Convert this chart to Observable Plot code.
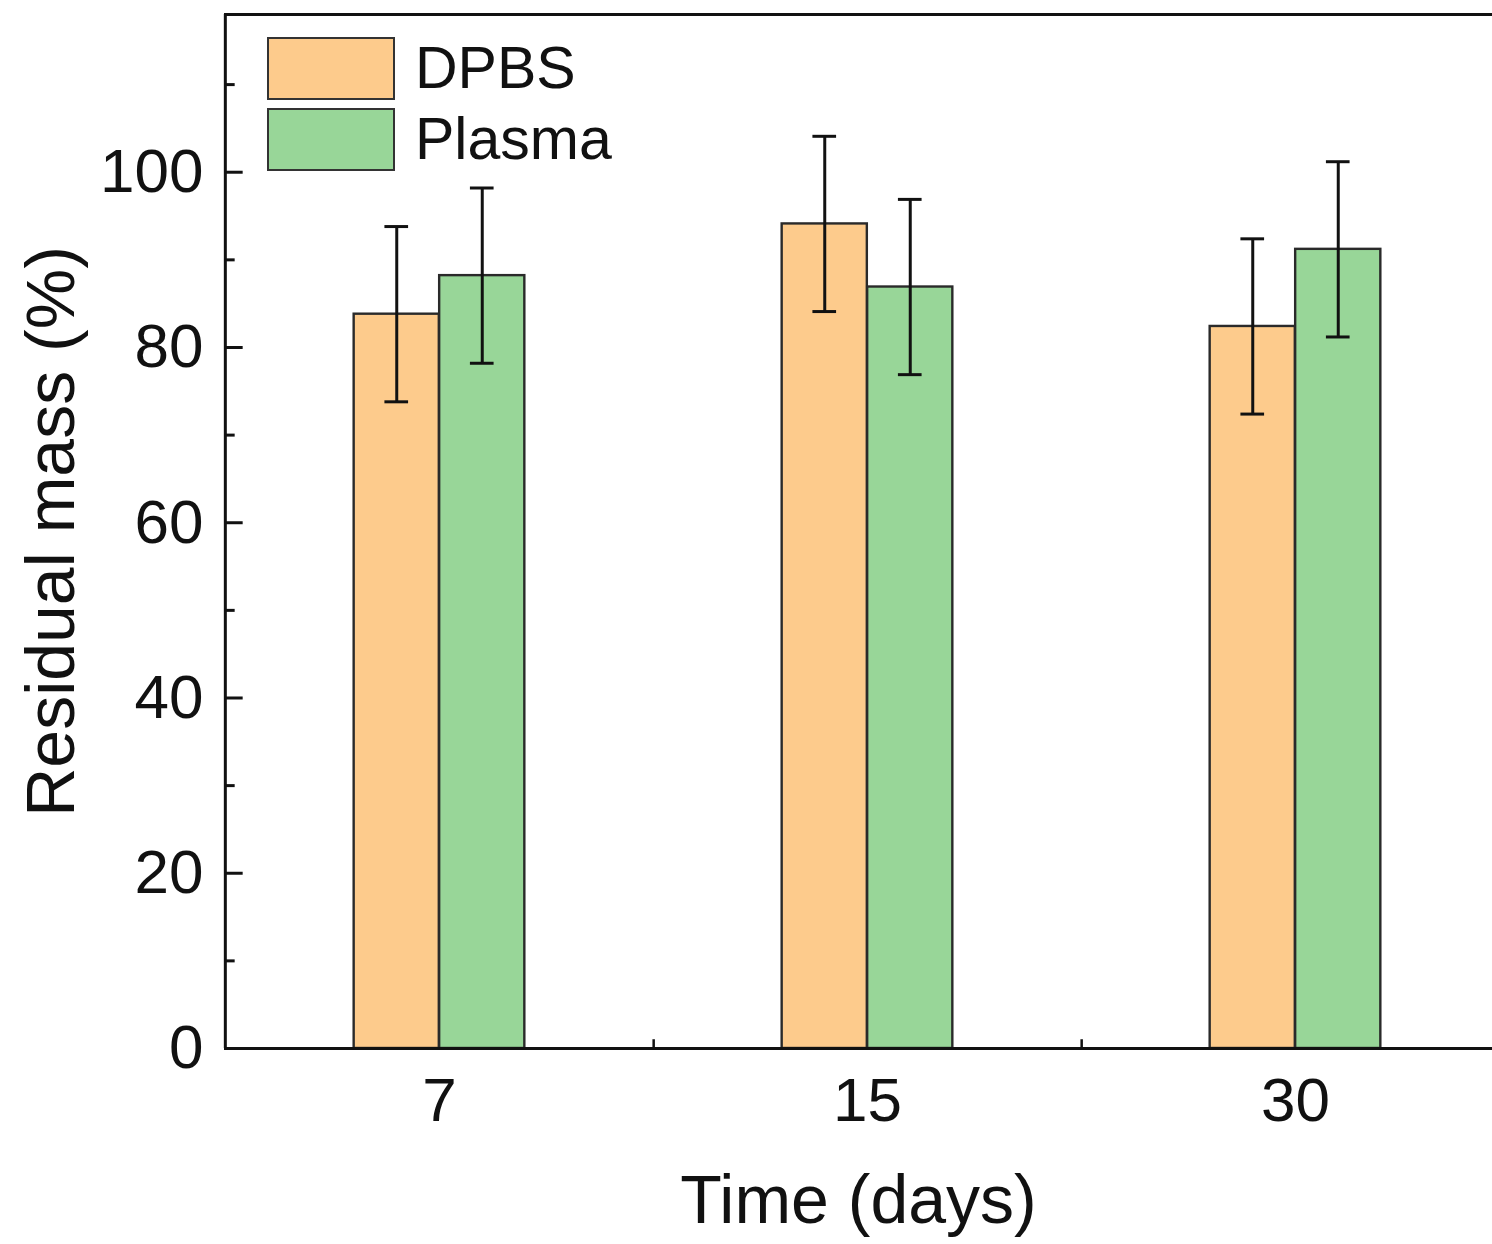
<!DOCTYPE html>
<html>
<head>
<meta charset="utf-8">
<script src="https://cdn.jsdelivr.net/npm/d3@7"></script>
<script src="https://cdn.jsdelivr.net/npm/@observablehq/plot@0.6"></script>
<style>
  html, body { margin: 0; padding: 0; background: #fff; overflow: hidden; }
  #wrap { position: relative; width: 1492px; height: 1244px; font-family: "Liberation Sans", Arial, sans-serif; }
  #legend { position: absolute; left: 267px; top: 37px; }
  .lg-row { display: flex; align-items: center; height: 71px; }
  .lg-row > .lg-sw { align-self: flex-start; }
  .lg-sw { width: 128px; height: 63px; border: 2.5px solid #333; box-sizing: border-box; }
  .lg-tx { margin-left: 20px; font-size: 59px; color: #111; line-height: 63px; align-self: flex-start; }
</style>
</head>
<body>
<div id="wrap"><div id="chart"></div><div id="legend"></div></div>
<script>
const days = ["7", "15", "30"];
const seriesNames = ["DPBS", "Plasma"];
const dpbsMean = [83.8, 94.1, 82.4];
const dpbsErr = [10.0, 10.0, 10.0];
const plasmaMean = [88.2, 86.9, 91.2];
const plasmaErr = [10.0, 10.0, 10.0];
const yTicks = [0, 20, 40, 60, 80, 100];
const yMinorTicks = [10, 30, 50, 70, 90, 110];
const colors = ["#fdcb8c", "#98d698"];

const rows = [];
days.forEach((d, i) => {
  rows.push({day: d, series: "DPBS", value: dpbsMean[i], err: dpbsErr[i]});
  rows.push({day: d, series: "Plasma", value: plasmaMean[i], err: plasmaErr[i]});
});

const bandW = (1509 - 224) / 3;
const barW = 85.5;
const inset = (bandW - barW) / 2;
const off = barW / 2;
const capW = 24;

const marks = [];
seriesNames.forEach((s, si) => {
  const data = rows.filter(r => r.series === s);
  const dx = si === 0 ? -off : off;
  marks.push(Plot.barY(data, {x: "day", y: "value", fill: colors[si], stroke: "#2a2a2a", strokeWidth: 2.4, insetLeft: inset, insetRight: inset, dx}));
});
seriesNames.forEach((s, si) => {
  const data = rows.filter(r => r.series === s);
  const dx = si === 0 ? -off : off;
  marks.push(Plot.ruleX(data, {x: "day", y1: d => d.value - d.err, y2: d => d.value + d.err, stroke: "#111", strokeWidth: 3, dx}));
  marks.push(Plot.tickY(data, {x: "day", y: d => d.value + d.err, stroke: "#111", strokeWidth: 3, inset: (bandW - capW) / 2, dx}));
  marks.push(Plot.tickY(data, {x: "day", y: d => d.value - d.err, stroke: "#111", strokeWidth: 3, inset: (bandW - capW) / 2, dx}));
});

const chart = Plot.plot({
  width: 1492,
  height: 1244,
  marginTop: 14,
  marginBottom: 196,
  marginLeft: 224,
  marginRight: 0,
  style: {fontFamily: "'Liberation Sans', Arial, sans-serif", background: "#fff", overflow: "hidden"},
  x: {domain: days, range: [224, 1509], padding: 0},
  y: {domain: [0, 118]},
  marks: [
    ...marks,
    // inward y ticks (major and minor) attached to the left axis
    Plot.tickY(yTicks, {x: () => days[0], y: d => d, stroke: "#111", strokeWidth: 3, insetRight: bandW - 18}),
    Plot.tickY(yMinorTicks, {x: () => days[0], y: d => d, stroke: "#111", strokeWidth: 3, insetRight: bandW - 10}),
    // axis lines / frame
    Plot.ruleY([0], {stroke: "#111", strokeWidth: 3}),
    Plot.ruleY([118], {stroke: "#111", strokeWidth: 3}),
    Plot.ruleX([days[0]], {y1: 0, y2: 118, stroke: "#111", strokeWidth: 3, dx: -bandW / 2}),
    // x minor ticks between categories
    Plot.ruleX(days.slice(0, 2), {y1: 0, y2: 1, stroke: "#111", strokeWidth: 2.5, dx: bandW / 2}),
    Plot.axisY(yTicks, {anchor: "left", tickSize: 0, tickPadding: 21, fontSize: 62, fill: "#111", label: null}),
    Plot.axisX({anchor: "bottom", tickSize: 0, tickPadding: 28, fontSize: 62, fill: "#111", label: null}),
    Plot.text(["Time (days)"], {frameAnchor: "bottom", dy: 174, fontSize: 68, fill: "#111"}),
    Plot.text(["Residual mass (%)"], {frameAnchor: "left", textAnchor: "middle", dx: -172, rotate: -90, fontSize: 68, fill: "#111"})
  ]
});
document.getElementById("chart").appendChild(chart);

const lg = document.getElementById("legend");
seriesNames.forEach((s, i) => {
  const row = document.createElement("div");
  row.className = "lg-row";
  const sw = document.createElement("div");
  sw.className = "lg-sw";
  sw.style.background = colors[i];
  const tx = document.createElement("div");
  tx.className = "lg-tx";
  tx.textContent = s;
  row.appendChild(sw); row.appendChild(tx);
  lg.appendChild(row);
});
</script>
</body>
</html>
